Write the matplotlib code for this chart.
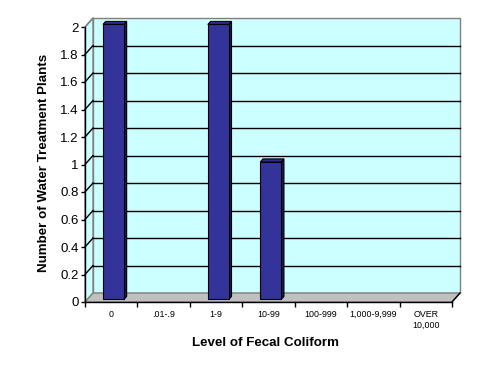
import numpy as np
import matplotlib
matplotlib.use('Agg')
import matplotlib.pyplot as plt
from matplotlib.patches import Polygon, Rectangle

plt.rcParams['font.family'] = ['Liberation Sans', 'DejaVu Sans']

categories = ['0', '.01-.9', '1-9', '10-99', '100-999', '1,000-9,999', 'OVER\n10,000']
values = [2, 0, 2, 1, 0, 0, 0]
yticks = [0, 0.2, 0.4, 0.6, 0.8, 1, 1.2, 1.4, 1.6, 1.8, 2]
ytick_labels = ['0', '0.2', '0.4', '0.6', '0.8', '1', '1.2', '1.4', '1.6', '1.8', '2']

W, H = 491, 374
fig = plt.figure(figsize=(W / 100, H / 100), dpi=100)
# front plane of the pseudo-3D chart, in pixels
left_px, right_px, bot_px, top_px = 85, 452, 302, 27
ax = fig.add_axes([left_px / W, (H - bot_px) / H,
                   (right_px - left_px) / W, (bot_px - top_px) / H])
n = len(categories)
ax.set_xlim(0, n)
ax.set_ylim(0, 2)
ax.patch.set_visible(False)

# depth offset (8 px right, 9 px up) in data units
ox = 8 / ((right_px - left_px) / n)
oy = 9 / ((bot_px - top_px) / 2)

cyan = '#CCFFFF'
wall_edge = '#808080'

# back wall
ax.add_patch(Rectangle((ox, oy), n, 2, facecolor=cyan, edgecolor=wall_edge,
                       lw=1, clip_on=False, zorder=1))
# left side wall
ax.add_patch(Polygon([(0, 0), (ox, oy), (ox, 2 + oy), (0, 2)], closed=True,
                     facecolor=cyan, edgecolor=wall_edge, lw=1, clip_on=False, zorder=1))
# floor
ax.add_patch(Polygon([(0, 0), (n, 0), (n + ox, oy), (ox, oy)], closed=True,
                     facecolor='#C0C0C0', edgecolor=wall_edge, lw=1, clip_on=False, zorder=2))

# gridlines on back wall and side wall
for v in yticks[1:-1]:
    ax.plot([ox, n + ox], [v + oy, v + oy], color='black', lw=1, clip_on=False, zorder=2)
    ax.plot([0, ox], [v, v + oy], color='black', lw=1, clip_on=False, zorder=2)
ax.plot([0, ox], [2, 2 + oy], color=wall_edge, lw=1, clip_on=False, zorder=2)
ax.plot([n, n + ox], [0, oy], color='black', lw=1, clip_on=False, zorder=2)

# bars
w = 0.4
f1, f2 = 0.28, 0.62
for i, v in enumerate(values):
    if v <= 0:
        continue
    x0 = i + (1 - w) / 2
    front = [(x0 + f1 * ox, f1 * oy), (x0 + w + f1 * ox, f1 * oy),
             (x0 + w + f1 * ox, v + f1 * oy), (x0 + f1 * ox, v + f1 * oy)]
    top = [(x0 + f1 * ox, v + f1 * oy), (x0 + w + f1 * ox, v + f1 * oy),
           (x0 + w + f2 * ox, v + f2 * oy), (x0 + f2 * ox, v + f2 * oy)]
    side = [(x0 + w + f1 * ox, f1 * oy), (x0 + w + f2 * ox, f2 * oy),
            (x0 + w + f2 * ox, v + f2 * oy), (x0 + w + f1 * ox, v + f1 * oy)]
    ax.add_patch(Polygon(side, closed=True, facecolor='#1A1A4D', edgecolor='black',
                         lw=0.8, clip_on=False, zorder=3))
    ax.add_patch(Polygon(top, closed=True, facecolor='#2E2E8A', edgecolor='black',
                         lw=0.8, clip_on=False, zorder=3))
    ax.add_patch(Polygon(front, closed=True, facecolor='#333399', edgecolor='black',
                         lw=0.8, clip_on=False, zorder=3))

# axes
for s in ['top', 'right']:
    ax.spines[s].set_visible(False)
for s in ['left', 'bottom']:
    ax.spines[s].set_color('black')
    ax.spines[s].set_linewidth(1)
    ax.spines[s].set_zorder(4)

ax.set_yticks(yticks)
ax.set_yticklabels(ytick_labels, fontsize=9.5)
ax.tick_params(axis='y', direction='out', length=3, width=1, pad=1.5, color='black')

ax.set_xticks(np.arange(n + 1))
ax.set_xticklabels([])
ax.tick_params(axis='x', which='major', direction='out', length=3.5, width=1)
ax.set_xticks(np.arange(n) + 0.5, minor=True)
ax.set_xticklabels(categories, minor=True, fontsize=6.4, linespacing=1.3)
ax.tick_params(axis='x', which='minor', length=0, pad=5.5)

fig.text(266 / W, 1 - 343 / H, 'Level of Fecal Coliform', ha='center', va='center',
         fontsize=9.6, fontweight='bold')
fig.text(44 / W, 1 - 163 / H, 'Number of Water Treatment Plants', ha='center', va='center',
         rotation=90, fontsize=9.6, fontweight='bold')

fig.savefig('out.png', dpi=100, facecolor='white')
